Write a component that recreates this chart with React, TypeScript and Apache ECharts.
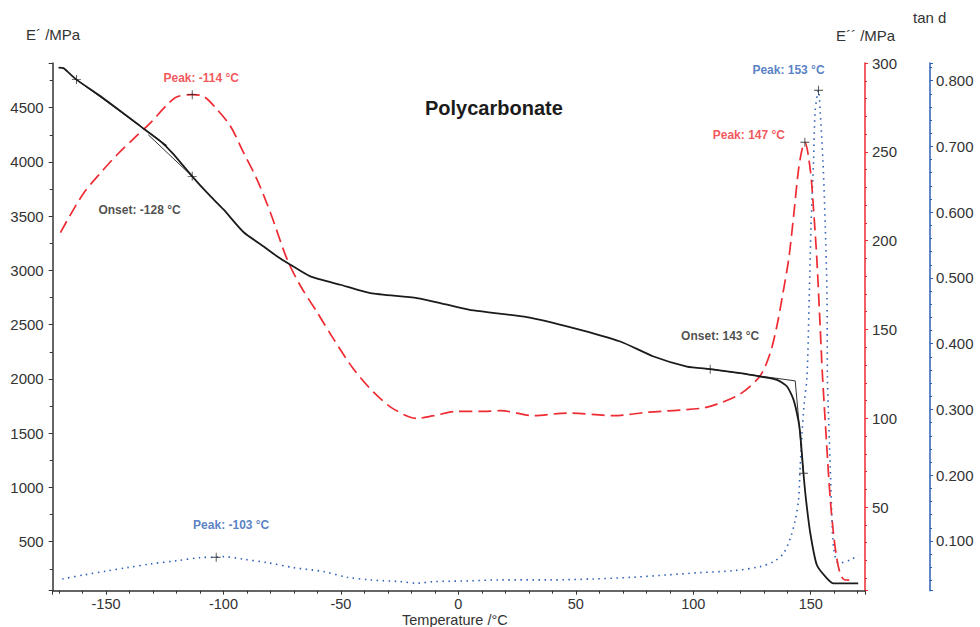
import React, { useEffect, useRef } from "react";
import * as echarts from "echarts";

// E' (storage modulus, MPa) vs temperature
const eT = [-170.2, -168.1, -166.4, -162.6, -152.3, -135.3, -126.8, -121.8, -113.3, -106.9, -99.9, -91.4, -82.9, -77.1, -71.5, -63, -50.2, -37.4, -17.6, -4.8, 6.5, 29.2, 49.1, 68.9, 83.1, 97.3, 107.2, 120, 128.5, 135.6, 139.9, 142.7, 144.7, 145.5, 146.9, 148, 149.8, 152.6, 156.9, 159.7, 170.2];
const eV = [4870, 4865, 4833, 4759, 4605, 4328, 4190, 4083, 3867, 3714, 3560, 3352, 3221, 3129, 3053, 2945, 2868, 2791, 2745, 2684, 2631, 2570, 2469, 2345, 2207, 2114, 2090, 2053, 2022, 1992, 1930, 1807, 1623, 1500, 1131, 885, 580, 285, 162, 116, 116];

// E'' (loss modulus, MPa)
const lT = [-169.4, -165.5, -159.4, -152.3, -145.2, -138.2, -131.1, -124, -119.7, -113.3, -108.4, -102.7, -97, -91.4, -85.7, -80, -72.9, -67.2, -60.1, -53.1, -44.6, -36, -27.5, -17.6, -10.5, -0.6, 9.4, 17.9, 32, 46.3, 66.1, 80.3, 102.9, 110.1, 120, 128.5, 132.8, 135.6, 137.7, 140.6, 142.7, 144.8, 146.3, 147.5, 149.8, 151.2, 152.6, 154, 155, 156.9, 158.3, 159.7, 161.1, 162.6, 164.3, 166.4];
const lV = [204.5, 213.8, 227, 238.2, 248.5, 257.5, 266.3, 276.5, 281, 282.2, 281.2, 273.8, 264.4, 249.4, 234.4, 215.7, 189.5, 174.5, 159.6, 144.6, 127.7, 114.6, 105.2, 100, 101.5, 103.9, 103.9, 104.3, 101.5, 103, 101.5, 103.4, 105.6, 108, 113.7, 124, 137, 152, 167, 189.5, 213.8, 240, 251.3, 255.4, 240, 217.6, 189.5, 152, 124, 82.8, 54.7, 35, 21, 12.5, 9.2, 9];

// tan d
const tT = [-168.6, -159.4, -149.5, -140.9, -131.1, -119.7, -109.8, -103.1, -99.9, -91.4, -81.4, -70.1, -57.3, -47.4, -37.4, -24.7, -17.6, -10.5, 3.7, 17.9, 39.1, 57.6, 74.6, 88.8, 103, 117.2, 128.5, 134.2, 138.4, 141.3, 143.4, 144.8, 145.5, 146.3, 147.2, 148.4, 149.4, 150.1, 151.2, 151.9, 153.3, 154, 155.2, 156.2, 156.9, 157.1, 157.4, 158.3, 159, 159.7, 161.8, 166.8, 170.3];
const tV = [0.0423, 0.0484, 0.0545, 0.0595, 0.0651, 0.0701, 0.0747, 0.0753, 0.0762, 0.0722, 0.0671, 0.0595, 0.0534, 0.0449, 0.0408, 0.0382, 0.0358, 0.0382, 0.0393, 0.0408, 0.0408, 0.0423, 0.0449, 0.0484, 0.0519, 0.0549, 0.061, 0.0686, 0.0813, 0.1041, 0.1319, 0.1622, 0.2127, 0.2634, 0.309, 0.3493, 0.4763, 0.577, 0.678, 0.754, 0.7854, 0.754, 0.678, 0.577, 0.476, 0.349, 0.309, 0.2127, 0.1369, 0.0913, 0.0662, 0.0712, 0.0788];

// Onset tangent constructions (E')
const onsetLowA = [[-162.6, 4759], [-124, 4150]];
const onsetLowB = [[-113.3, 3867], [-132, 4250]];
const onsetHigh = [[107.2, 2090], [143.4, 1982], [146.9, 1131]];

// Marker points
const eMarks = [[-162.6, 4759], [-113.3, 3867], [107.2, 2090], [146.9, 1131]];
const lMarks = [[-113.3, 282.2], [147.5, 255.4]];
const tMarks = [[-103.1, 0.0753], [153.3, 0.7854]];

const labelsE = ["", "Onset: -128 °C", "Onset: 143 °C", ""];
const labelsL = ["Peak: -114 °C", "Peak: 147 °C"];
const labelsT = ["Peak: -103 °C", "Peak: 153 °C"];

const FONT = "'Liberation Sans', Arial, Helvetica, sans-serif";
const RED = "#ee2b32";
const BLUE = "#2c5fb5";
const BLACK = "#1b1b1b";
const AXIS = "#333333";
const CROSS = "path://M0,3.6H8V4.4H0Z M3.6,0H4.4V8H3.6Z";

const zip = (a: number[], b: number[]) => a.map((v, i) => [v, b[i]]);

export default function App() {
  const ref = useRef<HTMLDivElement>(null);
  useEffect(() => {
    if (!ref.current) return;
    const chart = echarts.init(ref.current, undefined, { renderer: "svg" });

    const mkLabel = (text: string, off: number[], color: string) =>
      text
        ? {
            show: true,
            position: "inside",
            offset: off,
            formatter: text,
            color,
            fontWeight: "bold",
            fontSize: 12,
            fontFamily: FONT,
          }
        : { show: false };

    const eOffsets = [[0, 0], [-52.7, 33.3], [10, -33], [0, 0]];
    const lOffsets = [[9, -17], [-56, -7]];
    const tOffsets = [[15, -32], [-30, -20]];

    const plain = (v: number) => String(v);

    const yBase = (extra: any) => ({
      type: "value",
      splitLine: { show: false },
      axisLine: { show: true, onZero: false, lineStyle: { color: AXIS, width: 1.5 } },
      axisTick: { show: true, inside: false, length: 4, lineStyle: { color: AXIS } },
      minorTick: { show: true, length: 3, lineStyle: { color: AXIS } },
      ...extra,
    });

    chart.setOption({
      animation: false,
      textStyle: { fontFamily: FONT },
      title: {
        text: "Polycarbonate",
        left: 420,
        top: 93,
        textStyle: { fontSize: 20, fontWeight: "bold", color: BLACK, fontFamily: FONT },
      },
      grid: { left: 52.7, right: 115, top: 63, bottom: 36.3, containLabel: false },
      xAxis: {
        type: "value",
        min: -172.7,
        max: 173.1,
        splitNumber: 7,
        splitLine: { show: false },
        axisLine: { show: true, onZero: false, lineStyle: { color: AXIS, width: 1.5 } },
        axisTick: { show: true, length: 4, lineStyle: { color: AXIS } },
        minorTick: { show: true, splitNumber: 5, length: 3, lineStyle: { color: AXIS } },
        axisLabel: {
          color: "#333",
          fontSize: 14.5,
          fontFamily: FONT,
          margin: 6,
          showMinLabel: false,
          showMaxLabel: false,
          formatter: plain,
        },
      },
      yAxis: [
        yBase({
          position: "left",
          min: 48,
          max: 4912,
          splitNumber: 10,
          minorTick: { show: true, splitNumber: 2, length: 3, lineStyle: { color: AXIS } },
          axisLabel: {
            color: "#333",
            fontSize: 15,
            fontFamily: FONT,
            margin: 9,
            showMinLabel: false,
            showMaxLabel: false,
            formatter: plain,
          },
        }),
        yBase({
          position: "right",
          min: 3,
          max: 300,
          splitNumber: 6,
          axisLine: { show: true, onZero: false, lineStyle: { color: RED, width: 1.5 } },
          axisTick: { show: true, length: 3, lineStyle: { color: RED } },
          minorTick: { show: true, splitNumber: 5, length: 2, lineStyle: { color: RED } },
          axisLabel: {
            color: "#333",
            fontSize: 15,
            fontFamily: FONT,
            margin: 7,
            showMinLabel: false,
            showMaxLabel: true,
            formatter: plain,
          },
        }),
        yBase({
          position: "right",
          offset: 65,
          min: 0.0244,
          max: 0.8269,
          splitNumber: 8,
          axisLine: { show: true, onZero: false, lineStyle: { color: BLUE, width: 1.5 } },
          axisTick: { show: true, length: 3, lineStyle: { color: BLUE } },
          minorTick: { show: true, splitNumber: 5, length: 2, lineStyle: { color: BLUE } },
          axisLabel: {
            color: "#333",
            fontSize: 15,
            fontFamily: FONT,
            margin: 6,
            showMinLabel: false,
            showMaxLabel: false,
            formatter: (v: number) => v.toFixed(3),
          },
        }),
      ],
      graphic: [
        { type: "text", left: 26, top: 27, style: { text: "E´ /MPa", fontSize: 15, fill: "#333", fontFamily: FONT } },
        { type: "text", left: 836, top: 28, style: { text: "E´´ /MPa", fontSize: 15, fill: "#333", fontFamily: FONT } },
        { type: "text", left: 913, top: 10, style: { text: "tan d", fontSize: 15, fill: "#333", fontFamily: FONT } },
        { type: "text", left: 402, top: 612, style: { text: "Temperature /°C", fontSize: 14.5, fill: "#333", fontFamily: FONT } },
      ],
      series: [
        {
          name: "tan d",
          type: "line",
          yAxisIndex: 2,
          data: zip(tT, tV),
          showSymbol: false,
          smooth: 0.3,
          lineStyle: { color: BLUE, width: 1.6, type: [1.5, 4.5] },
          z: 2,
        },
        {
          name: "E''",
          type: "line",
          yAxisIndex: 1,
          data: zip(lT, lV),
          showSymbol: false,
          smooth: 0.3,
          lineStyle: { color: RED, width: 1.7, type: [13, 6] },
          z: 3,
        },
        {
          name: "E'",
          type: "line",
          yAxisIndex: 0,
          data: zip(eT, eV),
          showSymbol: false,
          smooth: 0.2,
          lineStyle: { color: BLACK, width: 1.8 },
          z: 4,
        },
        ...[onsetLowA, onsetLowB, onsetHigh].map((d) => ({
          type: "line",
          yAxisIndex: 0,
          data: d,
          showSymbol: false,
          lineStyle: { color: BLACK, width: 0.9 },
          z: 4,
        })),
        {
          type: "scatter",
          yAxisIndex: 0,
          symbol: CROSS,
          symbolSize: 9,
          itemStyle: { color: BLACK },
          data: eMarks.map((p, i) => ({ value: p, label: mkLabel(labelsE[i], eOffsets[i], "#222") })),
          z: 6,
        },
        {
          type: "scatter",
          yAxisIndex: 1,
          symbol: CROSS,
          symbolSize: 9,
          itemStyle: { color: BLACK },
          data: lMarks.map((p, i) => ({ value: p, label: mkLabel(labelsL[i], lOffsets[i], RED) })),
          z: 6,
        },
        {
          type: "scatter",
          yAxisIndex: 2,
          symbol: CROSS,
          symbolSize: 9,
          itemStyle: { color: BLACK },
          data: tMarks.map((p, i) => ({ value: p, label: mkLabel(labelsT[i], tOffsets[i], BLUE) })),
          z: 6,
        },
      ],
    });
    return () => chart.dispose();
  }, []);
  return <div ref={ref} style={{ position: "absolute", left: 0, top: 0, width: 980, height: 627, background: "#fff" }} />;
}
